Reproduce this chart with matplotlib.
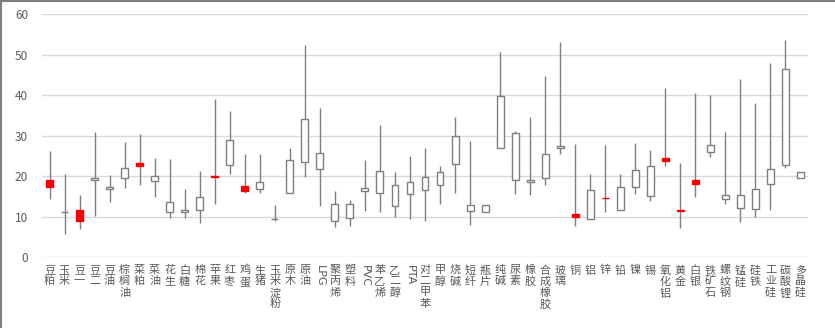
import numpy as np
import matplotlib.pyplot as plt
from matplotlib.lines import Line2D

plt.rcParams['font.family'] = ['Noto Sans CJK SC', 'DejaVu Sans']

names = ["豆粕", "玉米", "豆一", "豆二", "豆油", "棕榈油", "菜粕", "菜油", "花生", "白糖",
         "棉花", "苹果", "红枣", "鸡蛋", "生猪", "玉米淀粉", "原木", "原油", "LPG", "聚丙烯",
         "塑料", "PVC", "苯乙烯", "乙二醇", "PTA", "对二甲苯", "甲醇", "烧碱", "短纤", "瓶片",
         "纯碱", "尿素", "橡胶", "合成橡胶", "玻璃", "铜", "铝", "锌", "铅", "镍",
         "锡", "氧化铝", "黄金", "白银", "铁矿石", "螺纹钢", "锰硅", "硅铁", "工业硅", "碳酸锂",
         "多晶硅"]

open_ = [19.0, 11.1, 11.6, 19.0, 16.8, 19.5, 23.3, 18.7, 11.1, 11.0,
         11.7, 19.95, 22.7, 17.6, 16.9, 9.5, 15.9, 23.4, 21.7, 8.9,
         9.6, 16.4, 15.8, 12.6, 15.5, 16.5, 17.8, 23.0, 11.3, 11.1,
         26.8, 19.0, 18.5, 19.4, 26.8, 10.6, 9.5, 14.55, 11.6, 17.4,
         15.0, 24.4, 11.55, 18.9, 25.9, 14.4, 12.1, 11.9, 18.0, 22.8,
         19.5]
close = [17.2, 11.1, 8.8, 19.4, 17.2, 22.1, 22.4, 19.9, 13.6, 11.6,
         14.7, 19.85, 28.9, 16.2, 18.6, 9.5, 23.9, 34.1, 25.8, 13.0,
         13.2, 17.1, 21.2, 17.8, 18.6, 19.7, 21.0, 29.8, 12.8, 12.8,
         39.8, 30.6, 19.0, 25.4, 27.3, 9.8, 16.5, 14.45, 17.3, 21.5,
         22.5, 23.6, 11.45, 18.1, 27.7, 15.2, 15.3, 16.8, 21.7, 46.4,
         21.1]
high = [26.3, 20.6, 15.3, 30.9, 20.2, 28.3, 30.4, 24.4, 24.3, 16.8,
        21.3, 39.1, 36.1, 25.5, 25.4, 12.8, 26.9, 52.4, 36.7, 16.3,
        14.1, 23.9, 32.5, 21.1, 24.9, 26.9, 22.5, 34.7, 28.7, 12.8,
        50.7, 31.1, 34.5, 44.6, 53.2, 28.0, 20.6, 27.7, 20.4, 28.2,
        26.5, 41.7, 23.1, 40.6, 39.9, 30.9, 44.0, 38.1, 48.0, 53.5,
        21.1]
low = [14.4, 5.8, 6.9, 10.2, 13.5, 17.0, 17.7, 14.7, 9.6, 9.7,
       8.3, 13.0, 20.4, 15.8, 15.9, 8.8, 15.9, 19.7, 12.6, 7.3,
       7.6, 11.4, 11.1, 10.0, 9.3, 9.0, 13.2, 15.8, 7.8, 11.1,
       26.8, 15.5, 15.2, 17.7, 25.4, 7.7, 9.5, 11.0, 11.6, 15.6,
       13.8, 22.5, 7.2, 14.7, 24.8, 13.2, 8.6, 9.8, 11.5, 22.1,
       19.5]

x = np.arange(len(names))
o = np.array(open_)
c = np.array(close)
down = c < o

fig = plt.figure(figsize=(8.35, 3.28), dpi=100)
ax = fig.add_axes([0.0503, 0.2165, 0.9174, 0.7405])

ax.vlines(x, low, high, color='#7f7f7f', linewidth=1.0, zorder=2)

bottoms = np.minimum(o, c)
heights = np.abs(c - o)
face = np.where(down, '#ff0000', '#ffffff')
edge = np.where(down, '#ff0000', '#7f7f7f')
ax.bar(x, heights, bottom=bottoms, width=0.46, color=face, edgecolor=edge,
       linewidth=1.0, zorder=3)

ax.set_xlim(-0.5, len(names) - 0.5)
ax.set_ylim(0, 60)
ax.set_yticks(range(0, 61, 10))
ax.yaxis.grid(True, color='#d9d9d9', linewidth=1.0)
ax.set_axisbelow(True)
for s in ax.spines.values():
    s.set_visible(False)
ax.tick_params(axis='both', length=0)
ax.tick_params(axis='y', labelsize=8.5, labelcolor='#595959', pad=10)

ax.set_xticks(x)
ax.set_xticklabels([])
for xi, name in zip(x, names):
    if name.isascii():
        ax.text(xi, -2.0, name, rotation=270, ha='center', va='top',
                fontsize=8, color='#595959', family='DejaVu Sans')
    else:
        ax.text(xi, -2.0, '\n'.join(name), ha='center', va='top',
                fontsize=8, color='#595959', linespacing=1.15)

# border on the left and top edges
fig.add_artist(Line2D([0.001, 0.001], [0, 1], transform=fig.transFigure,
                      color='#7f7f7f', linewidth=1.5))
fig.add_artist(Line2D([0, 1], [0.998, 0.998], transform=fig.transFigure,
                      color='#7f7f7f', linewidth=1.5))

fig.savefig('out.png', dpi=100)
